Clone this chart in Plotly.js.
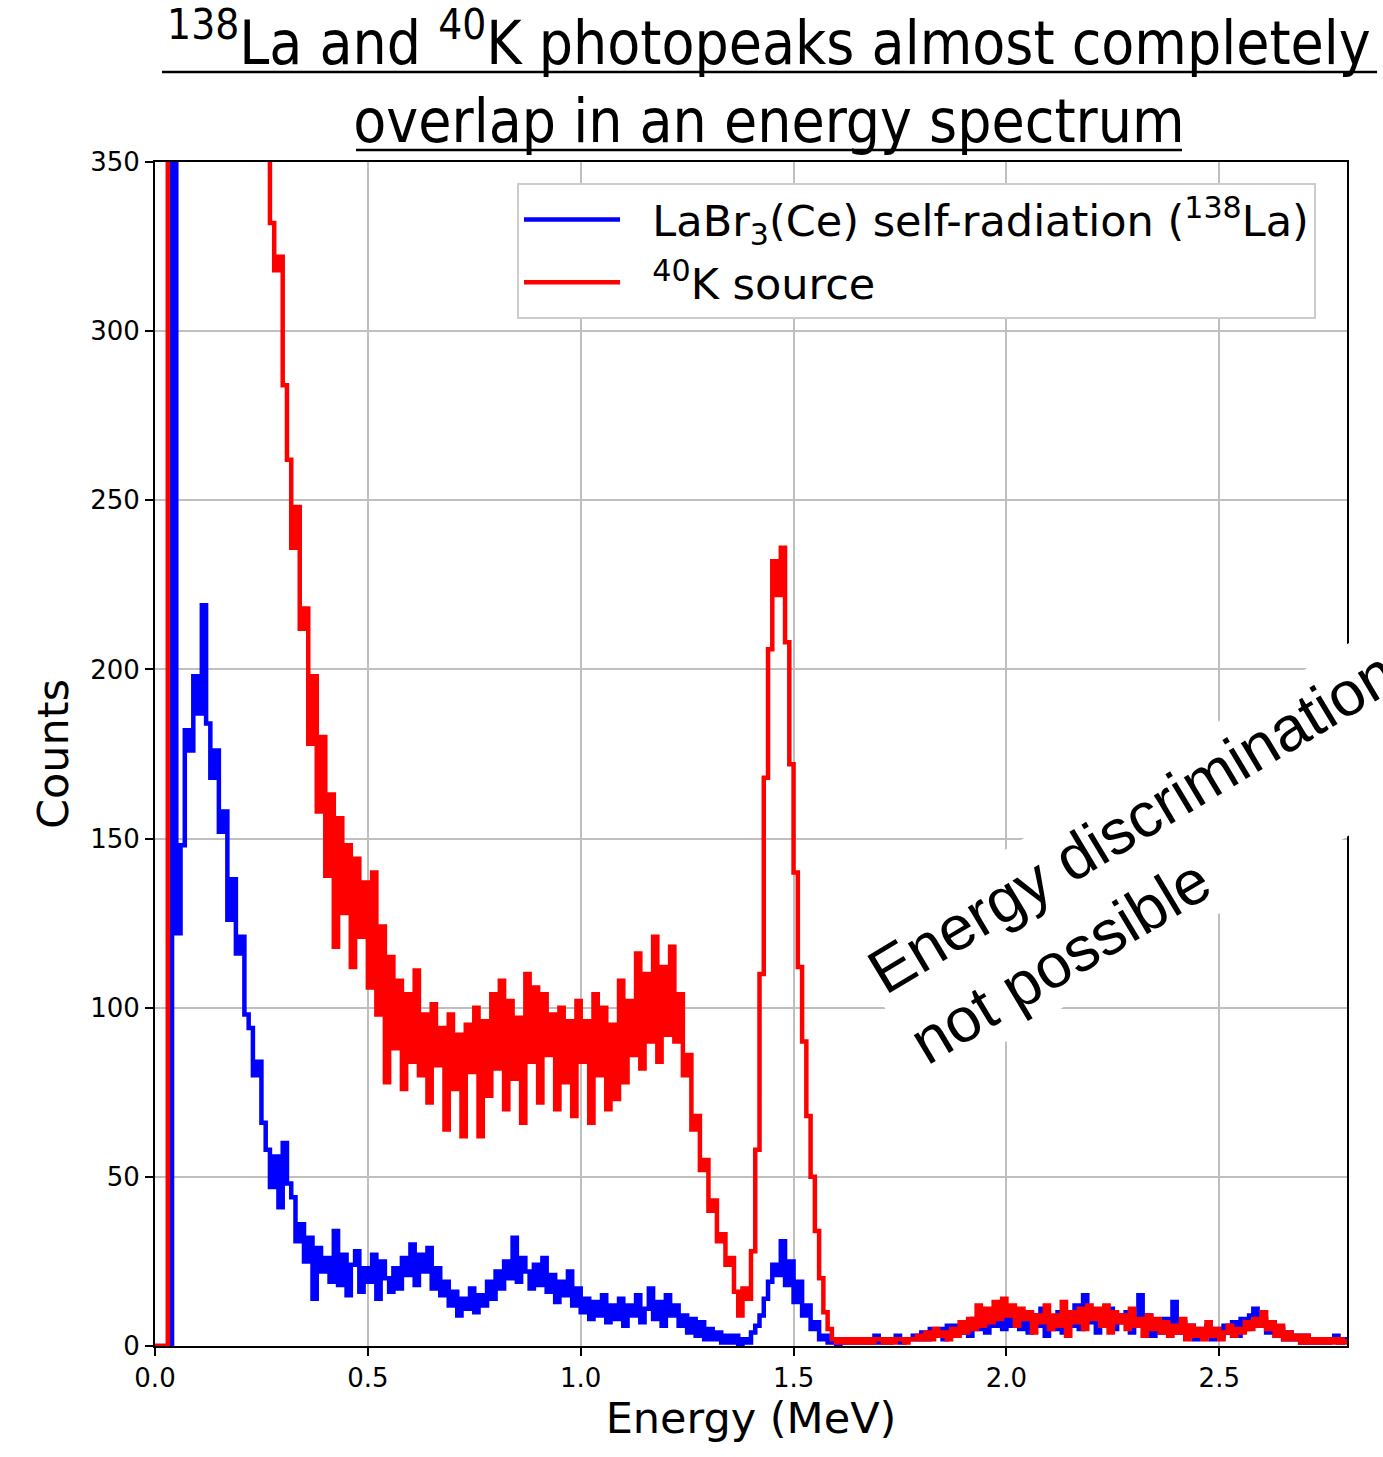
<!DOCTYPE html>
<html>
<head>
<meta charset="utf-8">
<script src="https://cdn.plot.ly/plotly-3.0.1.min.js"></script>
<style>html,body{margin:0;padding:0;background:#fff}</style>
</head>
<body>
<div id="chart" style="width:1383px;height:1457px"></div>
<script>
// Spectrum bins: 0.00 MeV to 2.80 MeV, 0.01 MeV wide
const binStartMeV = 0.0;
const binWidthMeV = 0.01;

// LaBr3(Ce) self-radiation (138La) counts per bin
const la138Counts = [
  0,0,0,0,3000,122,148,182,176,198,
  187,219,184,168,176,152,158,126,138,116,
  121,98,94,80,84,66,58,47,56,41,
  60,48,44,31,36,25,32,14,29,22,
  26,19,34,18,27,15,24,28,16,23,
  19,27,14,25,20,16,23,17,26,21,
  30,18,27,22,29,17,23,15,19,12,
  16,9,14,11,17,10,15,12,19,14,
  22,17,25,20,32,19,26,22,17,24,
  18,26,16,21,13,19,15,22,12,17,
  10,14,8,13,9,15,7,12,8,14,
  6,12,9,15,7,11,17,8,13,6,
  15,9,12,6,9,4,8,3,7,2,
  5,2,4,1,3,1,3,0,2,1,
  4,6,9,14,19,24,21,31,18,25,
  13,19,9,12,5,7,2,3,1,1,
  0,1,2,1,2,1,1,2,1,3,
  1,2,1,2,3,1,2,2,3,2,
  4,2,5,3,5,2,6,3,6,4,
  7,3,8,5,9,4,10,6,11,5,
  9,6,10,5,8,4,9,6,11,3,
  8,5,10,4,9,6,12,5,15,7,
  10,4,9,6,11,5,9,7,10,4,
  8,15,6,9,3,7,4,8,5,13,
  4,7,3,6,2,5,3,6,2,5,
  3,6,4,7,3,8,5,9,11,6,
  8,4,7,3,5,2,4,2,3,1,
  3,1,2,1,2,1,2,3,1,2,
  1
];

// 40K source counts per bin (values above 350 run off the top)
const k40Counts = [
  0,0,0,3000,3000,2400,1900,1600,1350,1150,
  1000,900,820,760,700,650,610,570,540,510,
  480,460,440,420,400,385,365,332,318,322,
  284,262,236,248,212,218,178,198,158,180,
  139,163,118,156,128,148,112,144,121,137,
  106,140,98,124,78,115,88,108,76,104,
  84,111,80,98,72,101,83,94,64,98,
  76,92,62,95,81,100,62,96,74,104,
  82,108,70,102,79,97,66,110,84,106,
  72,104,86,98,70,100,78,96,68,102,
  84,96,66,104,80,100,70,95,73,108,
  78,102,86,116,82,110,90,121,84,112,
  92,118,90,104,80,86,64,68,52,55,
  40,43,31,33,24,26,16,9,17,14,
  28,58,110,168,206,232,222,236,208,172,
  140,112,90,68,50,34,20,10,5,2,
  1,2,1,2,1,2,1,2,1,2,
  2,1,2,1,2,2,1,2,2,3,
  2,4,2,5,3,4,2,5,3,7,
  4,8,5,12,6,11,7,13,8,14,
  9,12,6,11,8,10,4,9,7,12,
  5,9,6,13,3,10,7,11,5,12,
  8,11,6,12,4,10,7,9,5,11,
  6,8,3,9,5,8,4,7,3,6,
  4,8,2,6,3,5,2,7,3,5,
  2,4,6,3,5,4,7,5,8,6,
  10,5,7,3,6,2,4,2,3,1,
  3,1,2,1,2,1,2,1,2,1,
  2
];

const xTickVals = [0, 0.5, 1.0, 1.5, 2.0, 2.5];
const xTickText = ['0.0', '0.5', '1.0', '1.5', '2.0', '2.5'];
const yTickVals = [0, 50, 100, 150, 200, 250, 300, 350];
const yTickText = ['0', '50', '100', '150', '200', '250', '300', '350'];

const seriesNames = [
  '\u00a0\u00a0LaBr<sub>3</sub>(Ce) self-radiation (<sup>138</sup>La)',
  '\u00a0\u00a0<sup>40</sup>K source'
];
const titleText = '<sup>138</sup>La and <sup>40</sup>K photopeaks almost completely<br>overlap in an energy spectrum';
const noteText = 'Energy discrimination<br>not possible';

const energies = la138Counts.map((_, i) => +(binStartMeV + i * binWidthMeV).toFixed(2));

const traces = [
  {x: energies, y: la138Counts, type: 'scatter', mode: 'lines', name: seriesNames[0],
   line: {color: '#0000ff', width: 4.5, shape: 'hv'}, legendgroup: 'a'},
  {x: energies, y: k40Counts, type: 'scatter', mode: 'lines', name: seriesNames[1],
   line: {color: '#ff0000', width: 4.5, shape: 'hv'}, legendgroup: 'b'}
];

const axisFont = {family: 'DejaVu Sans, sans-serif', size: 26, color: '#000'};
const labelFont = {family: 'DejaVu Sans, sans-serif', size: 43, color: '#000'};

// title underlines (paper coordinates of the plot frame)
const underline = {type: 'line', xref: 'paper', yref: 'paper', line: {color: '#000', width: 2.5}, layer: 'above'};

const layout = {
  width: 1383, height: 1457,
  margin: {l: 155, r: 36, t: 162, b: 111, pad: 0},
  paper_bgcolor: '#fff', plot_bgcolor: '#fff',
  showlegend: true,
  title: {
    text: titleText,
    font: {family: 'Liberation Sans Narrow, DejaVu Sans Condensed, sans-serif', size: 60, color: '#000'},
    x: 0.556, xref: 'container', xanchor: 'center',
    y: 0.956, yref: 'container', yanchor: 'top'
  },
  shapes: [
    Object.assign({}, underline, {x0: 0.0059, x1: 1.0252, y0: 1.0760, y1: 1.0760}),
    Object.assign({}, underline, {x0: 0.1686, x1: 0.8616, y0: 1.0101, y1: 1.0101})
  ],
  xaxis: {
    range: [0, 2.8], tickvals: xTickVals, ticktext: xTickText,
    ticks: 'outside', ticklen: 8, tickwidth: 2, tickcolor: '#000',
    showline: true, linecolor: '#000', linewidth: 2, mirror: true,
    showgrid: true, gridcolor: '#bfbfbf', gridwidth: 2, zeroline: false,
    tickfont: axisFont,
    title: {text: 'Energy (MeV)', font: labelFont, standoff: 10}
  },
  yaxis: {
    range: [0, 350], tickvals: yTickVals, ticktext: yTickText,
    ticks: 'outside', ticklen: 8, tickwidth: 2, tickcolor: '#000',
    showline: true, linecolor: '#000', linewidth: 2, mirror: true,
    showgrid: true, gridcolor: '#bfbfbf', gridwidth: 2, zeroline: false,
    tickfont: axisFont,
    title: {text: 'Counts', font: labelFont, standoff: 8}
  },
  legend: {
    x: 0.3037, y: 0.9823, xanchor: 'left', yanchor: 'top',
    bgcolor: '#fff', bordercolor: '#cccccc', borderwidth: 2,
    font: {family: 'DejaVu Sans, sans-serif', size: 43, color: '#000'},
    tracegroupgap: 4, itemwidth: 96
  },
  annotations: [
    {x: 2.3445, y: 144.5, xref: 'x', yref: 'y', text: noteText, textangle: -31, align: 'left',
     showarrow: false, xanchor: 'center', yanchor: 'middle', bgcolor: '#fff', borderpad: 6,
     font: {family: 'Liberation Sans, Arial, sans-serif', size: 63, color: '#000'}}
  ]
};

Plotly.newPlot('chart', traces, layout, {displayModeBar: false, responsive: false});
</script>
</body>
</html>
